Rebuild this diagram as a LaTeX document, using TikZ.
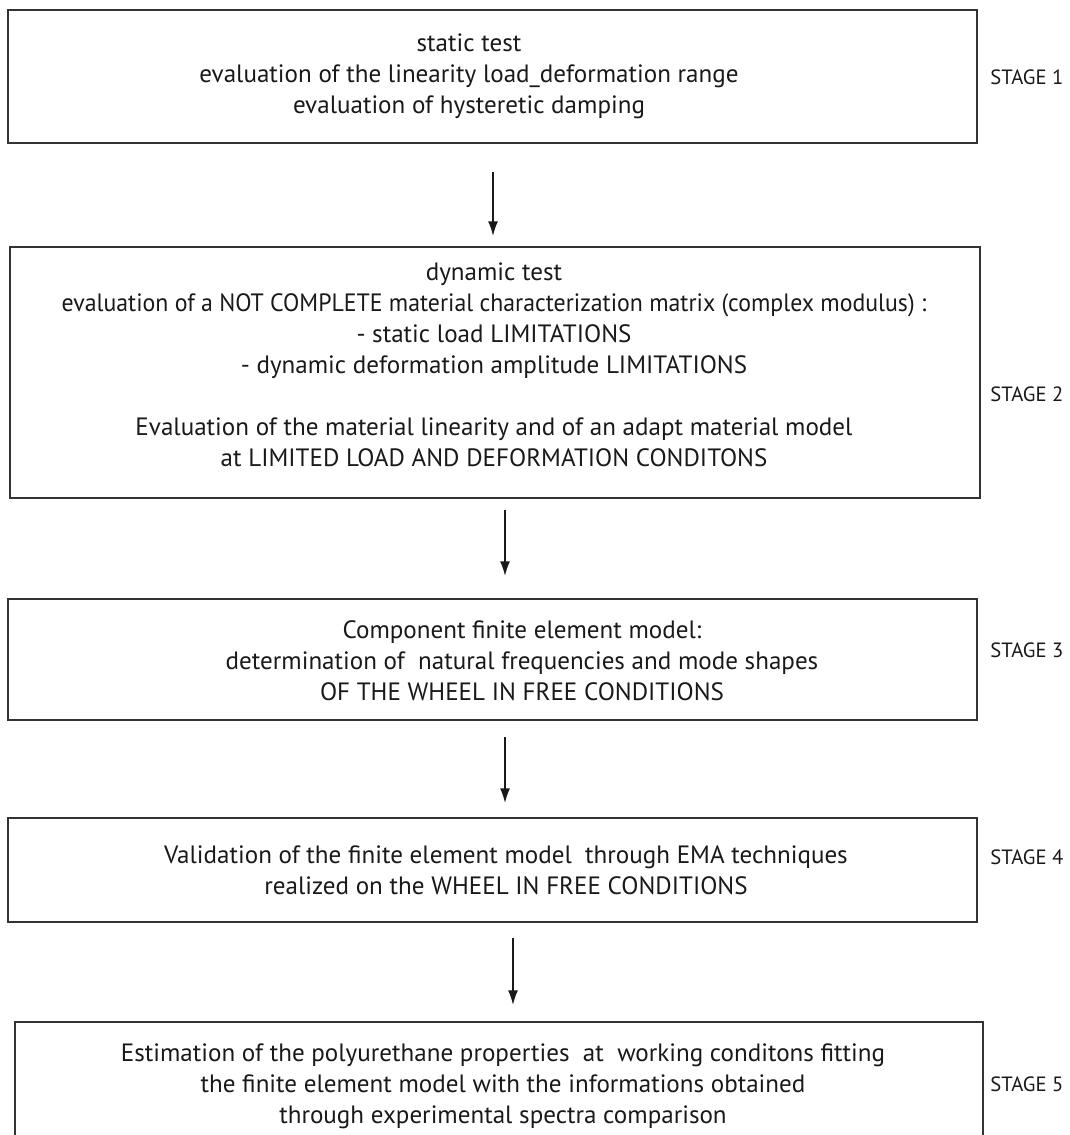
\documentclass[tikz,border=0pt]{standalone}
\usepackage{fontspec}
\setmainfont{PT Sans}
\usetikzlibrary{arrows.meta,fit}
\begin{document}
\begin{tikzpicture}[x=0.75pt,y=-0.75pt,
  box/.style={draw=black!80, line width=1.5pt, rectangle, inner sep=0pt},
  txt/.style={align=center, font=\fontsize{18.8}{23.25}\selectfont, text=black!90, inner sep=0pt},
  stg/.style={anchor=west, font=\fontsize{15.5}{18}\selectfont, text=black!90, inner sep=0pt},
  arr/.style={line width=1.2pt, black!90, -{Latex[length=11pt,width=7.5pt]}}]
\useasboundingbox (0,0) rectangle (1070,1135);
% boxes
\node[box, fit={(8,10) (977,143)}] (b1) {};
\node[box, fit={(10,247) (980,498)}] (b2) {};
\node[box, fit={(8,599) (977,720)}] (b3) {};
\node[box, fit={(8,818) (977,922)}] (b4) {};
\node[box, fit={(15,1022) (983,1142)}] (b5) {};
% texts
\node[txt] (t1) at (469,76) {static test\\evaluation of the linearity load\_deformation range\\evaluation of hysteretic damping};
\node[txt] (t2) at (494,365) {dynamic test\\\scalebox{0.95}[1]{evaluation of a NOT COMPLETE material characterization matrix (complex modulus) :}\\- static load LIMITATIONS\\- dynamic deformation amplitude LIMITATIONS\\[23.25pt]Evaluation of the material linearity and of an adapt material model\\at LIMITED LOAD AND DEFORMATION CONDITONS};
\node[txt] (t3) at (522,661) {Component finite element model:\\determination of\ \ natural frequencies and mode shapes\\OF THE WHEEL IN FREE CONDITIONS};
\node[txt] (t4) at (506,870) {Validation of the finite element model\ \ through EMA techniques\\realized on the WHEEL IN FREE CONDITIONS};
\node[txt] (t5) at (503,1086) {Estimation of the polyurethane properties\ \ at\ \ working conditons fitting\\the finite element model with the informations obtained\\through experimental spectra comparison};
% stage labels
\node[stg] (s1) at (990,77) {STAGE 1};
\node[stg] (s2) at (990,394) {STAGE 2};
\node[stg] (s3) at (990,650) {STAGE 3};
\node[stg] (s4) at (990,857) {STAGE 4};
\node[stg] (s5) at (990,1084) {STAGE 5};
% arrows
\coordinate (a1s) at (493,172); \coordinate (a1e) at (493,236);
\coordinate (a2s) at (505,510); \coordinate (a2e) at (505,576);
\coordinate (a3s) at (505,737); \coordinate (a3e) at (505,803);
\coordinate (a4s) at (513,938); \coordinate (a4e) at (513,1005);
\draw[arr] (a1s) -- (a1e);
\draw[arr] (a2s) -- (a2e);
\draw[arr] (a3s) -- (a3e);
\draw[arr] (a4s) -- (a4e);
\end{tikzpicture}
\end{document}
